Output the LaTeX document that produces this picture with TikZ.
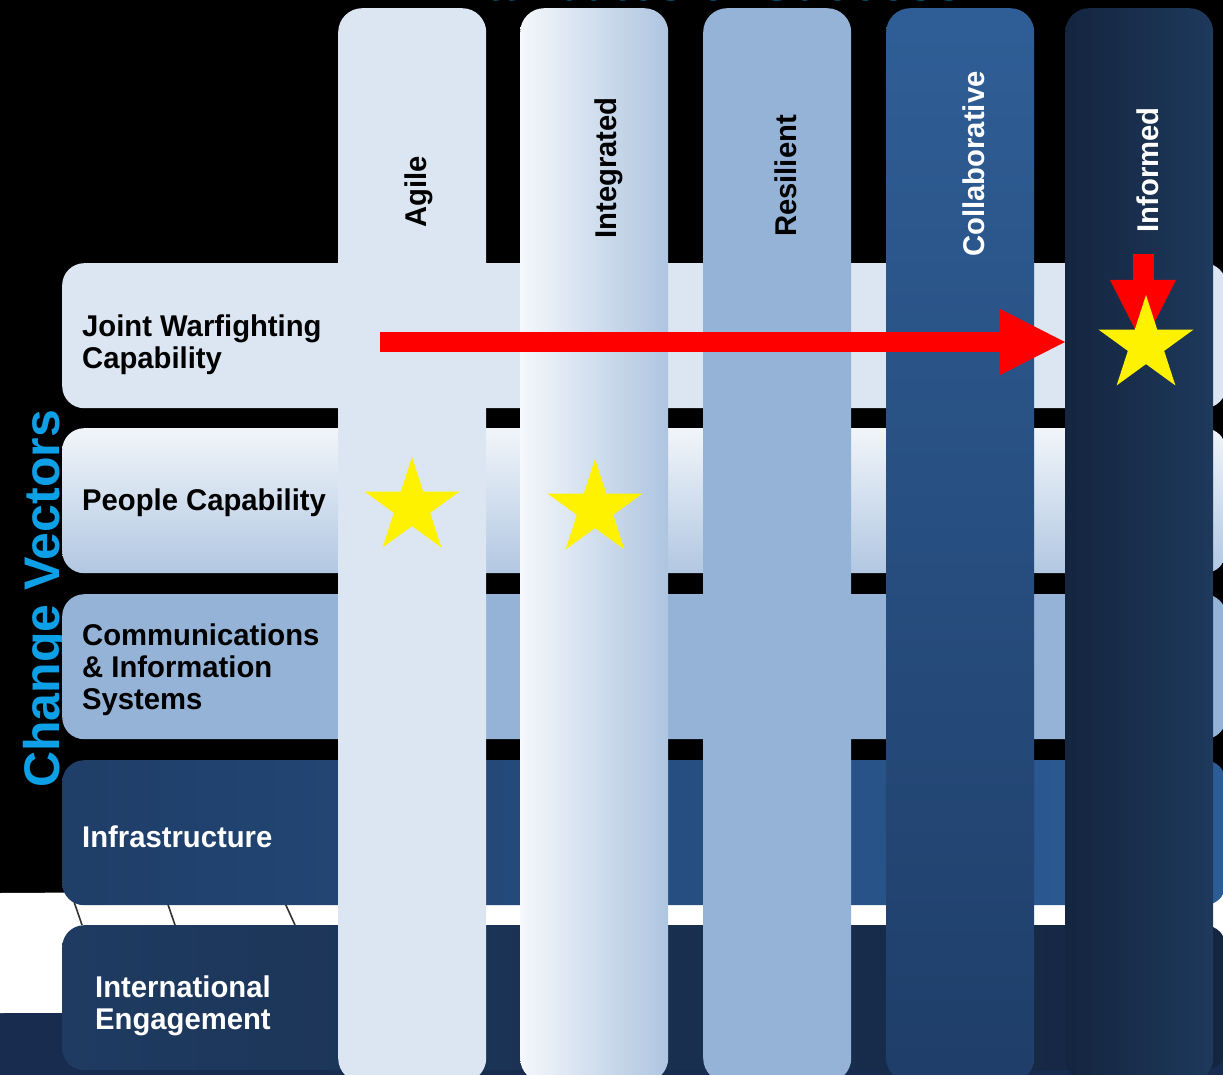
\documentclass[tikz,border=0pt]{standalone}
\usepackage{fontspec}
\setmainfont{Liberation Sans}
\newfontfamily\tightfont{Liberation Sans}[FakeStretch=0.975]
\usepackage{tikz}
\usetikzlibrary{arrows.meta,shapes.geometric,positioning}

\definecolor{palebox}{HTML}{DCE6F2}
\definecolor{midbox}{HTML}{95B3D7}
\definecolor{vecblue}{HTML}{0EA0E6}
\definecolor{floornavy}{HTML}{172C4E}

\begin{document}
\begin{tikzpicture}[x=1pt,y=-1pt,
    rowbox/.style={rounded corners=22pt, anchor=north west, minimum width=1164pt, minimum height=145pt, inner sep=0pt},
    colbox/.style={rounded corners=24pt, anchor=north west, minimum width=148pt, minimum height=1074pt, inner sep=0pt},
    rowlabel/.style={anchor=west, align=left, inner sep=0pt, font=\tightfont\bfseries\fontsize{30}{32}\selectfont},
    collabel/.style={anchor=base, rotate=90, inner sep=0pt, font=\tightfont\bfseries\fontsize{30}{30}\selectfont},
    bigtitle/.style={text=vecblue, inner sep=0pt, font=\bfseries\fontsize{50}{50}\selectfont},
    goldstar/.style={star, star points=5, star point ratio=2.618, fill=yellow, minimum size=100pt, inner sep=0pt},
    redarrow/.style={draw=red, line width=20pt, -{Triangle[length=65pt,width=66pt,line width=0pt]}}]
  \useasboundingbox (0,0) rectangle (1223,1075);
  \clip (0,0) rectangle (1223,1075);
  % backdrop
  \fill[black] (0,0) rectangle (1223,1075);
  \fill[floornavy] (0,900) rectangle (1223,1075);
  \fill[white] (0,893) -- (1223,886) -- (1223,1010) -- (0,1013) -- cycle;
  \foreach \xa/\xb in {70/82,163/175,279/295}
    \draw[black!80, line width=1.6pt] (\xa,890) -- (\xb,925);
  \node[bigtitle, anchor=base] (title) at (706,1) {Attributes of Success};
  \node[bigtitle, anchor=base, rotate=90] (vectors) at (59,599) {Change Vectors};

  % change vectors (rows)
  \node[rowbox, fill=palebox] (jwcRow) at (62,263) {};
  \node[rowbox, top color=white!60!palebox, bottom color=midbox!60!palebox] (peopleRow) at (62,428) {};
  \node[rowbox, fill=midbox] (cisRow) at (62,594) {};
  \node[rowbox, left color={rgb,255:red,31;green,62;blue,104}, right color={rgb,255:red,44;green,92;blue,150}] (infraRow) at (62,760) {};
  \node[rowbox, left color={rgb,255:red,31;green,59;blue,97}, right color={rgb,255:red,20;green,37;blue,64}] (intlRow) at (62,925) {};

  \node[rowlabel] (jwcText) at (82,345) {Joint Warfighting\\Capability};
  \node[rowlabel] (peopleText) at (82,503) {People Capability};
  \node[rowlabel] (cisText) at (82,670) {Communications\\\& Information\\Systems};
  \node[rowlabel, text=white] (infraText) at (82,837) {Infrastructure};
  \node[rowlabel, text=white] (intlText) at (95,1006) {International\\Engagement};

  % attributes (columns)
  \node[colbox, fill=palebox] (agile) at (338,8) {};
  \node[colbox, left color=white!70!palebox, right color=midbox!65!palebox] (integrated) at (520,8) {};
  \node[colbox, fill=midbox] (resilient) at (703,8) {};
  \node[colbox, top color={rgb,255:red,47;green,94;blue,150}, bottom color={rgb,255:red,31;green,62;blue,105}] (collaborative) at (886,8) {};
  \node[colbox, left color={rgb,255:red,20;green,37;blue,63}, right color={rgb,255:red,30;green,57;blue,92}] (informed) at (1065,8) {};

  \node[collabel] (agileText) at (426,192) {Agile};
  \node[collabel] (integratedText) at (616,168) {Integrated};
  \node[collabel] (resilientText) at (796,176) {Resilient};
  \node[collabel, text=white] (collaborativeText) at (984,164) {Collaborative};
  \node[collabel, text=white] (informedText) at (1158,170) {Informed};

  % arrows and stars
  \coordinate (jwcStart) at (380,342);
  \coordinate (informedStarC) at (1146,345);
  \coordinate (informedTop) at (1143,254);
  \draw[redarrow] (jwcStart) -- (informed.west |- jwcStart);
  \draw[redarrow, line width=21pt] (informedTop) -- (informedTop |- informedStarC);
  \node[goldstar] (agileStar) at (412,507) {};
  \node[goldstar] (integratedStar) at (595,509) {};
  \node[goldstar] (informedStar) at (informedStarC) {};
\end{tikzpicture}
\end{document}
